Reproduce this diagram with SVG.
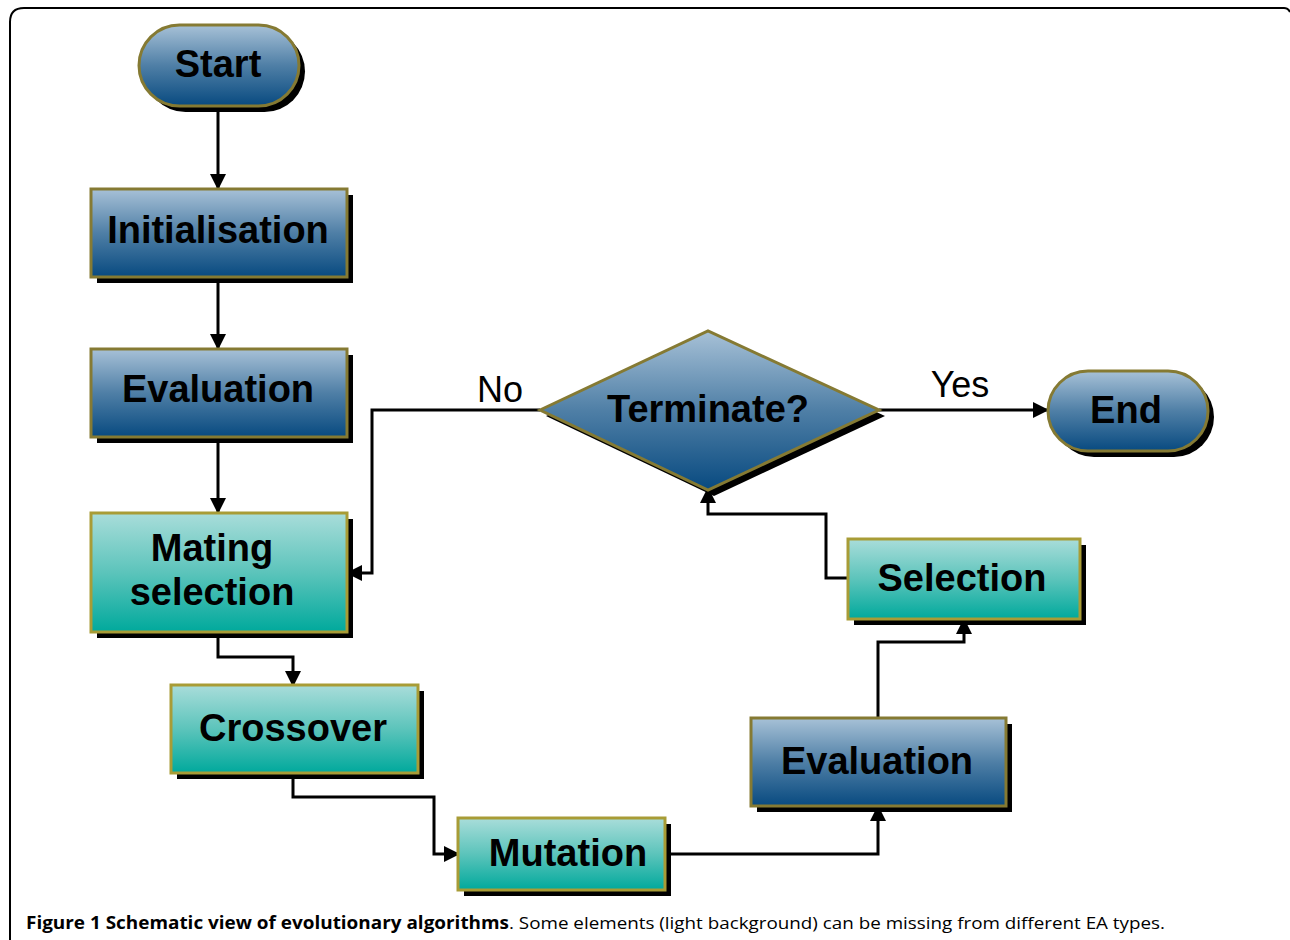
<svg xmlns="http://www.w3.org/2000/svg" width="1290" height="940" viewBox="0 0 1290 940">
<defs>
<linearGradient id="gBlue" x1="0" y1="0" x2="0" y2="1">
<stop offset="0" stop-color="#a7c1d7"/>
<stop offset="0.5" stop-color="#4f7fa6"/>
<stop offset="1" stop-color="#084a80"/>
</linearGradient>
<linearGradient id="gTeal" x1="0" y1="0" x2="0" y2="1">
<stop offset="0" stop-color="#a9ddda"/>
<stop offset="0.5" stop-color="#5cc4bb"/>
<stop offset="1" stop-color="#00a99c"/>
</linearGradient>
<marker id="ah" viewBox="0 0 16 16" refX="15" refY="8" markerWidth="16" markerHeight="16" markerUnits="userSpaceOnUse" orient="auto">
<path d="M0,0 L16,8 L0,16 Z" fill="#000"/>
</marker>
<style>
.sh{fill:#000;}
.blue{fill:url(#gBlue);stroke:#857a33;stroke-width:3;}
.teal{fill:url(#gTeal);stroke:#a89c36;stroke-width:3;}
.lbl{font-family:"Liberation Sans",Arial,sans-serif;font-weight:bold;font-size:38px;fill:#000;text-anchor:middle;}
.edge{fill:none;stroke:#000;stroke-width:3;}
.el{font-family:"Liberation Sans",Arial,sans-serif;font-size:36px;fill:#000;text-anchor:middle;}
.cap{font-family:"Open Sans","Liberation Sans",sans-serif;font-size:17px;fill:#000;}
</style>
</defs>
<rect width="1290" height="940" fill="#fff"/>
<path d="M10,940 L10,22 Q10,8 24,8 L1284,8 Q1288,8 1290,12" fill="none" stroke="#000" stroke-width="2"/>

<g id="connectors">
<path class="edge" d="M218,106 L218,189" marker-end="url(#ah)"/>
<path class="edge" d="M218,277 L218,349" marker-end="url(#ah)"/>
<path class="edge" d="M218,437 L218,513" marker-end="url(#ah)"/>
<path class="edge" d="M218,632 L218,657 L293,657 L293,686" marker-end="url(#ah)"/>
<path class="edge" d="M293,773 L293,797 L434,797 L434,854 L459,854" marker-end="url(#ah)"/>
<path class="edge" d="M665,854 L878,854 L878,806" marker-end="url(#ah)"/>
<path class="edge" d="M878,718 L878,642 L964,642 L964,619" marker-end="url(#ah)"/>
<path class="edge" d="M848,578 L826,578 L826,514 L708,514 L708,488" marker-end="url(#ah)"/>
<path class="edge" d="M540,410 L372,410 L372,573 L347,573" marker-end="url(#ah)"/>
<path class="edge" d="M879,410 L1048,410" marker-end="url(#ah)"/>
<text class="el" x="500" y="402">No</text>
<text class="el" x="960" y="397">Yes</text>
</g>

<g id="start">
<rect class="sh" x="145" y="31" width="160" height="81" rx="40.5"/>
<rect class="blue" x="139" y="25" width="160" height="81" rx="40.5"/>
<text class="lbl" x="218" y="77">Start</text>
</g>
<g id="initialisation">
<rect class="sh" x="97" y="195" width="256" height="88"/>
<rect class="blue" x="91" y="189" width="256" height="88"/>
<text class="lbl" x="218" y="243">Initialisation</text>
</g>
<g id="evaluation1">
<rect class="sh" x="97" y="355" width="256" height="88"/>
<rect class="blue" x="91" y="349" width="256" height="88"/>
<text class="lbl" x="218" y="402">Evaluation</text>
</g>
<g id="mating">
<rect class="sh" x="97" y="519" width="256" height="119"/>
<rect class="teal" x="91" y="513" width="256" height="119"/>
<text class="lbl" x="212" y="561">Mating</text>
<text class="lbl" x="212" y="605">selection</text>
</g>
<g id="crossover">
<rect class="sh" x="177" y="691" width="247" height="88"/>
<rect class="teal" x="171" y="685" width="247" height="88"/>
<text class="lbl" x="293" y="741">Crossover</text>
</g>
<g id="mutation">
<rect class="sh" x="464" y="824" width="207" height="72"/>
<rect class="teal" x="458" y="818" width="207" height="72"/>
<text class="lbl" x="568" y="866">Mutation</text>
</g>
<g id="evaluation2">
<rect class="sh" x="757" y="724" width="255" height="88"/>
<rect class="blue" x="751" y="718" width="255" height="88"/>
<text class="lbl" x="877" y="774">Evaluation</text>
</g>
<g id="selection">
<rect class="sh" x="854" y="545" width="232" height="80"/>
<rect class="teal" x="848" y="539" width="232" height="80"/>
<text class="lbl" x="962" y="591">Selection</text>
</g>
<g id="terminate">
<polygon class="sh" points="546,416 714,337 885,416 714,496"/>
<polygon class="blue" points="540,410 708,331 879,410 708,490"/>
<text class="lbl" x="708" y="422">Terminate?</text>
</g>
<g id="end">
<rect class="sh" x="1054" y="377" width="160" height="80" rx="40"/>
<rect class="blue" x="1048" y="371" width="160" height="80" rx="40"/>
<text class="lbl" x="1126" y="423">End</text>
</g>

<g id="caption">
<text class="cap" x="26" y="929"><tspan font-weight="bold" textLength="483" lengthAdjust="spacingAndGlyphs">Figure 1 Schematic view of evolutionary algorithms</tspan><tspan textLength="656" lengthAdjust="spacingAndGlyphs">. Some elements (light background) can be missing from different EA types.</tspan></text>
</g>
</svg>
